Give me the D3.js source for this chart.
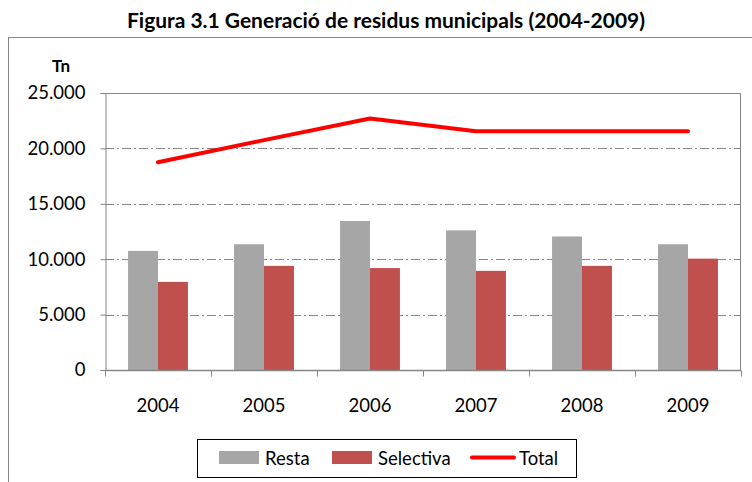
<!DOCTYPE html>
<html>
<head>
<meta charset="utf-8">
<script src="https://cdn.jsdelivr.net/npm/d3@7"></script>
<style>
  body { margin: 0; background: #fff; }
  svg { display: block; font-family: Lato, "Open Sans", sans-serif; }
</style>
</head>
<body>
<div id="chart"></div>
<script>
// Figura 3.1 — municipal waste generation, bars + total line

const years     = ['2004', '2005', '2006', '2007', '2008', '2009'];
const resta     = [10750, 11350, 13450, 12600, 12050, 11350];
const selectiva = [7950, 9400, 9200, 8950, 9400, 10050];
const total     = [18750, 20750, 22700, 21550, 21550, 21550];
const yTicks    = [0, 5000, 10000, 15000, 20000, 25000];

const W = 752, H = 482;
const m = { top: 93, right: 11, bottom: 112, left: 105 };
const iw = W - m.left - m.right;
const ih = H - m.top - m.bottom;

const axisColor = '#868686';
const grey = '#A6A6A6', red = '#C0504D', lineRed = '#FF0000';
const fs = 18.5;

const svg = d3.select('#chart').append('svg')
  .attr('width', W).attr('height', H);

// outer chart frame
svg.append('rect')
  .attr('x', 8.5).attr('y', 37.5)
  .attr('width', W).attr('height', H)
  .attr('fill', 'none').attr('stroke', axisColor).attr('stroke-width', 1);

svg.append('text')
  .attr('x', 386).attr('y', 28)
  .attr('text-anchor', 'middle')
  .attr('font-weight', 'bold').attr('font-size', 20.5)
  .attr('textLength', 518).attr('lengthAdjust', 'spacingAndGlyphs')
  .attr('fill', '#000')
  .text('Figura 3.1 Generació de residus municipals (2004-2009)');

svg.append('text')
  .attr('x', 61).attr('y', 72)
  .attr('text-anchor', 'middle')
  .attr('font-weight', 'bold').attr('font-size', 17)
  .text('Tn');

const g = svg.append('g').attr('transform', `translate(${m.left},${m.top})`);

const x = d3.scaleBand().domain(years).range([0, iw]).paddingInner(0).paddingOuter(0);
const inner = d3.scaleBand().domain(['resta', 'selectiva']).range([0, x.bandwidth()])
  .paddingInner(0).paddingOuter(0.77);
const y = d3.scaleLinear().domain([0, 25000]).range([ih, 0]);

const fmt = d3.formatLocale({ decimal: ',', thousands: '.', grouping: [3], currency: ['', '€'] }).format(',d');

// gridlines (dash-dot)
g.append('g').selectAll('line')
  .data(yTicks.filter(d => d > 0 && d < 25000))
  .join('line')
  .attr('x1', 0).attr('x2', iw)
  .attr('y1', d => Math.round(y(d)) + 0.5).attr('y2', d => Math.round(y(d)) + 0.5)
  .attr('stroke', axisColor).attr('stroke-width', 1)
  .attr('stroke-dasharray', '9,3,2,3');

// plot border top + right
g.append('path')
  .attr('d', `M0,${y(25000) + 0.5}H${iw - 0.5}V${ih}`)
  .attr('fill', 'none').attr('stroke', axisColor);

// bars
const series = [
  { key: 'resta', values: resta, color: grey },
  { key: 'selectiva', values: selectiva, color: red }
];
series.forEach(s => {
  g.append('g').selectAll('rect')
    .data(s.values)
    .join('rect')
    .attr('x', (d, i) => x(years[i]) + inner(s.key))
    .attr('y', d => y(d))
    .attr('width', inner.bandwidth())
    .attr('height', d => ih - y(d))
    .attr('fill', s.color);
});

// total line
const line = d3.line()
  .x((d, i) => x(years[i]) + x.bandwidth() / 2)
  .y(d => y(d));
g.append('path')
  .datum(total)
  .attr('d', line)
  .attr('fill', 'none')
  .attr('stroke', lineRed).attr('stroke-width', 4)
  .attr('stroke-linecap', 'round').attr('stroke-linejoin', 'round');

// y axis
const yAxis = g.append('g')
  .attr('transform', 'translate(0.5,0)')
  .call(d3.axisLeft(y).tickValues(yTicks).tickSize(5).tickPadding(15).tickFormat(fmt));
yAxis.select('.domain').attr('stroke', axisColor);
yAxis.selectAll('.tick line').attr('stroke', axisColor);
yAxis.selectAll('text').attr('font-size', fs).attr('fill', '#000')
  .attr('font-family', 'Lato, "Open Sans", sans-serif');

// x axis with ticks at category boundaries
const xAxis = g.append('g').attr('transform', `translate(0,${ih + 0.5})`);
xAxis.append('line')
  .attr('x1', 0).attr('x2', iw).attr('stroke', axisColor).attr('stroke-width', 1.5);
xAxis.selectAll('.bound')
  .data(d3.range(years.length + 1))
  .join('line')
  .attr('class', 'bound')
  .attr('x1', i => Math.round(i * x.step()) + 0.5)
  .attr('x2', i => Math.round(i * x.step()) + 0.5)
  .attr('y1', 0).attr('y2', 6)
  .attr('stroke', axisColor);
xAxis.selectAll('.lbl')
  .data(years)
  .join('text')
  .attr('class', 'lbl')
  .attr('x', d => x(d) + x.bandwidth() / 2)
  .attr('y', 41)
  .attr('text-anchor', 'middle')
  .attr('font-size', fs)
  .text(d => d);

// legend
const lg = svg.append('g').attr('transform', 'translate(197,439)');
lg.append('rect')
  .attr('x', 0.5).attr('y', 0.5).attr('width', 379).attr('height', 38)
  .attr('fill', '#fff').attr('stroke', '#000');
const items = [
  { label: 'Resta', color: grey, type: 'rect', x: 22 },
  { label: 'Selectiva', color: red, type: 'rect', x: 135 },
  { label: 'Total', color: lineRed, type: 'line', x: 274 }
];
items.forEach(it => {
  if (it.type === 'rect') {
    lg.append('rect').attr('x', it.x).attr('y', 12).attr('width', 40).attr('height', 13)
      .attr('fill', it.color);
  } else {
    lg.append('line').attr('x1', it.x + 1).attr('x2', it.x + 43)
      .attr('y1', 18.5).attr('y2', 18.5)
      .attr('stroke', it.color).attr('stroke-width', 4).attr('stroke-linecap', 'round');
  }
  lg.append('text')
    .attr('x', it.x + (it.type === 'rect' ? 46 : 48)).attr('y', 25.5)
    .attr('font-size', fs)
    .text(it.label);
});
</script>
</body>
</html>
